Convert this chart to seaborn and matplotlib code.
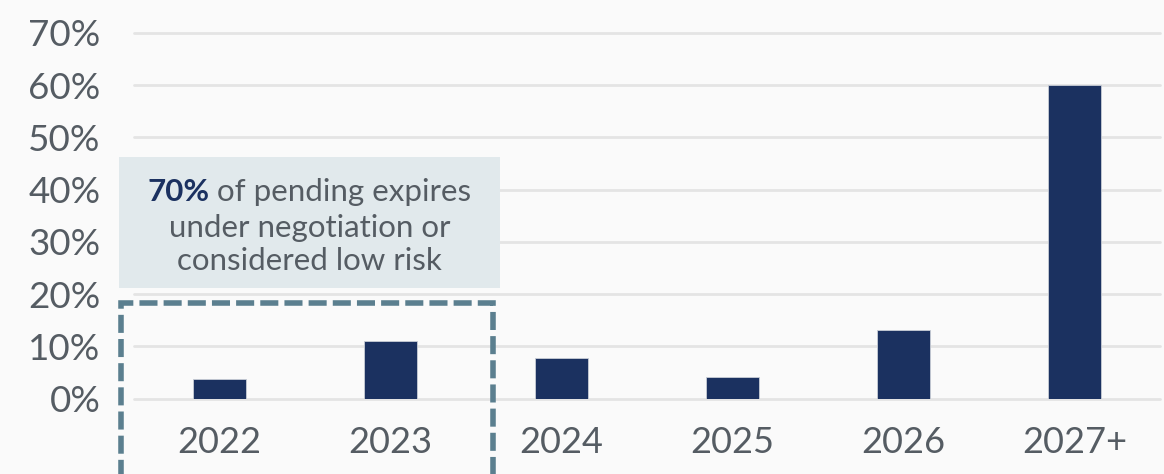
import pandas as pd
import seaborn as sns
import matplotlib.pyplot as plt
from matplotlib.patches import Rectangle

# Lease expirations by year (% of total)
years = ["2022", "2023", "2024", "2025", "2026", "2027+"]
share = [3.8, 11.0, 7.7, 4.1, 13.1, 60.0]
y_ticks = [0, 10, 20, 30, 40, 50, 60, 70]

navy = "#1b3160"
grey_text = "#555c63"
bg = "#fafafa"

df = pd.DataFrame({"year": years, "share": share})

sns.set_theme(style="white")
plt.rcParams["font.family"] = ["Lato", "DejaVu Sans"]

fig = plt.figure(figsize=(11.64, 4.74), dpi=100, facecolor=bg)
ax = fig.add_axes([0.1151, 0.1589, 0.8815, 0.7715])
ax.set_facecolor(bg)

sns.barplot(data=df, x="year", y="share", color=navy, width=0.31,
            saturation=1, edgecolor="#c9ced6", linewidth=0.6, ax=ax, zorder=3)

ax.set_xlim(-0.5, len(years) - 0.5)
ax.set_ylim(0, 70)
ax.set_yticks(y_ticks)
ax.set_yticklabels([f"{t}%" for t in y_ticks])
ax.grid(axis="y", color="#e4e4e4", linewidth=2, zorder=0)
for g in ax.get_ygridlines():
    g.set_clip_on(False)
ax.set_xlabel("")
ax.set_ylabel("")
for s in ax.spines.values():
    s.set_visible(False)
ax.tick_params(axis="y", length=0, pad=24, labelsize=26.5, labelcolor=grey_text)
ax.tick_params(axis="x", length=0, pad=20, labelsize=26, labelcolor=grey_text)

# callout box
ax.add_patch(Rectangle((-0.588, 21.2), 2.228, 25.1, facecolor="#e1e9ec",
                       edgecolor="none", clip_on=False, zorder=1))
cx = 0.526
fs = 22.5
t_bold = ax.text(cx, 39.6, "70%", color=navy, fontsize=fs, fontweight="bold",
                 ha="right", va="center", zorder=4)
t_rest = ax.text(cx, 39.6, " of pending expires", color=grey_text, fontsize=fs,
                 ha="left", va="center", zorder=4)
# center the two-part first line
fig.canvas.draw()
r = fig.canvas.get_renderer()
w_b = t_bold.get_window_extent(r).width
w_r = t_rest.get_window_extent(r).width
px_per_unit = ax.transData.transform((1, 0))[0] - ax.transData.transform((0, 0))[0]
shift = (w_b - w_r) / 2 / px_per_unit
t_bold.set_x(cx + shift)
t_rest.set_x(cx + shift)
ax.text(cx, 32.7, "under negotiation or", color=grey_text, fontsize=fs,
        ha="center", va="center", zorder=4)
ax.text(cx, 26.4, "considered low risk", color=grey_text, fontsize=fs,
        ha="center", va="center", zorder=4)

# dashed highlight around 2022-2023
ax.add_patch(Rectangle((-0.574, -30), 2.175, 48.36, facecolor="none",
                       edgecolor="#5b7f8f", linewidth=4, linestyle=(0, (3.25, 1.1)),
                       clip_on=False, zorder=2))

fig.savefig("out.png", dpi=100, facecolor=bg)
